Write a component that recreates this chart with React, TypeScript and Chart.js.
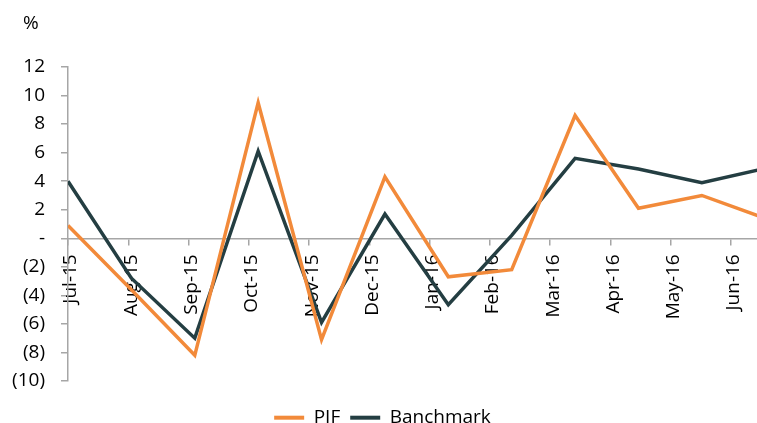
import { useEffect, useRef } from 'react';
import { Chart, registerables } from 'chart.js';

Chart.register(...registerables);

const months = ['Jul-15', 'Aug-15', 'Sep-15', 'Oct-15', 'Nov-15', 'Dec-15', 'Jan-16', 'Feb-16', 'Mar-16', 'Apr-16', 'May-16', 'Jun-16'];
const pif = [0.9, -3.6, -8.2, 9.5, -7.1, 4.3, -2.7, -2.2, 8.6, 2.1, 3.0, 1.4];
const banchmark = [4.0, -2.8, -7.0, 6.1, -5.9, 1.7, -4.65, 0.2, 5.6, 4.85, 3.9, 4.9];
const yMin = -10;
const yMax = 12;
const yStep = 2;
const unitLabel = '%';

const ORANGE = '#F28A3A';
const DARK = '#243E42';
const AXIS = '#A6A6A6';
const FONT = { family: '"Open Sans", sans-serif', size: 19 };

export default function App() {
  const ref = useRef<HTMLCanvasElement | null>(null);

  useEffect(() => {
    document.body.style.margin = '0';
    const canvas = ref.current;
    if (!canvas) return;
    const chart = new Chart(canvas, {
      type: 'line',
      data: {
        datasets: [
          {
            label: 'PIF',
            data: pif.map((v, i) => ({ x: i, y: v })),
            borderColor: ORANGE,
            backgroundColor: ORANGE,
            borderWidth: 3.5,
            pointRadius: 0,
            tension: 0,
            xAxisID: 'x',
            yAxisID: 'y',
          },
          {
            label: 'Banchmark',
            data: banchmark.map((v, i) => ({ x: i, y: v })),
            borderColor: DARK,
            backgroundColor: DARK,
            borderWidth: 3.5,
            pointRadius: 0,
            tension: 0,
            xAxisID: 'x',
            yAxisID: 'y',
          },
        ],
      },
      options: {
        animation: false,
        responsive: true,
        maintainAspectRatio: false,
        layout: { padding: { left: 8, right: 0, top: 67, bottom: 0 } },
        plugins: {
          tooltip: { enabled: false },
          title: { display: false },
          legend: {
            position: 'bottom',
            maxHeight: 42,
            title: { display: true, text: '', font: { size: 1 }, padding: { top: 16, bottom: 0 } },
            labels: {
              color: '#000',
              font: FONT,
              boxWidth: 30,
              boxHeight: 4,
              padding: 10,
              generateLabels: (c: any) =>
                Chart.defaults.plugins.legend.labels.generateLabels(c).map((l: any) => ({ ...l, lineWidth: 0 })),
            },
          },
        },
        scales: {
          x: {
            type: 'linear',
            display: false,
            min: 0,
            max: 10.87,
          },
          xl: {
            type: 'linear',
            position: { y: 0 } as any,
            min: 0,
            max: 11.43,
            z: 1,
            afterBuildTicks: (s: any) => {
              s.ticks = months.map((_, i) => ({ value: i }));
            },
            afterFit: (s: any) => {
              s.paddingLeft = 0;
              s.paddingRight = 0;
            },
            ticks: {
              autoSkip: false,
              minRotation: 90,
              maxRotation: 90,
              padding: 10,
              labelOffset: 3,
              color: '#000',
              font: FONT,
              callback: (v: any) => months[v as number] ?? '',
            },
            grid: { drawOnChartArea: false, drawTicks: true, tickLength: 6, color: AXIS, lineWidth: 1.5 },
            border: { display: true, color: AXIS, width: 1.5 },
          },
          y: {
            type: 'linear',
            position: 'left',
            min: yMin,
            max: yMax,
            afterFit: (s: any) => {
              s.width = 60;
            },
            ticks: {
              stepSize: yStep,
              padding: 16,
              color: '#000',
              font: FONT,
              callback: (v: any) => (v === 0 ? '-' : v < 0 ? `(${-v})` : `${v}`),
            },
            grid: { drawOnChartArea: false, drawTicks: true, tickLength: 7, color: AXIS, lineWidth: 1.5 },
            border: { display: true, color: AXIS, width: 1.5 },
          },
        },
      } as any,
    });
    return () => chart.destroy();
  }, []);

  return (
    <div style={{ width: 757, height: 423, position: 'relative' }}>
      <span
        style={{
          position: 'absolute',
          left: 23,
          top: 11,
          fontFamily: '"Open Sans", sans-serif',
          fontSize: 19,
          lineHeight: '23px',
          color: '#000',
        }}
      >
        {unitLabel}
      </span>
      <canvas ref={ref} />
    </div>
  );
}
